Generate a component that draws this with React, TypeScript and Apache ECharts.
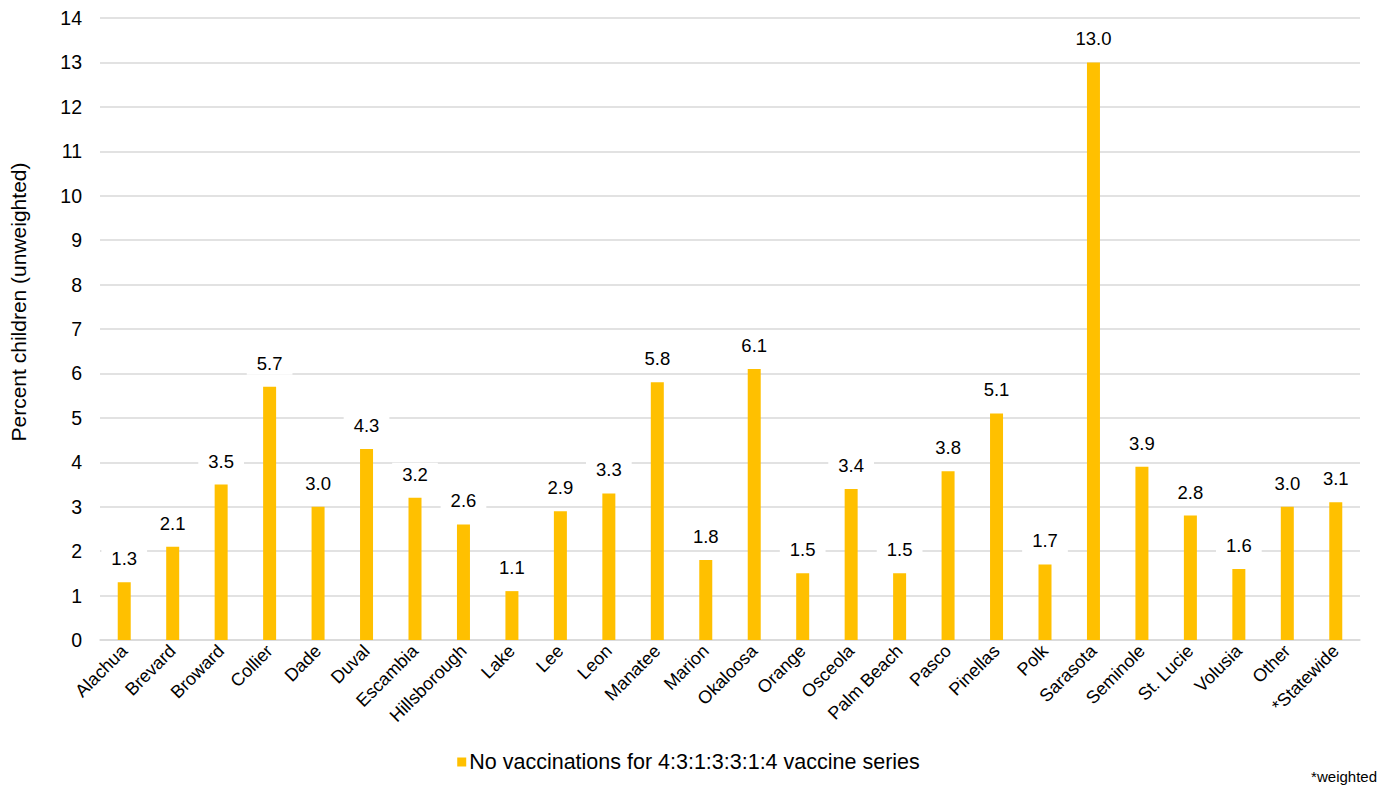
import React, { useEffect, useRef } from "react";
import * as echarts from "echarts";

const counties = [
  "Alachua", "Brevard", "Broward", "Collier", "Dade", "Duval", "Escambia",
  "Hillsborough", "Lake", "Lee", "Leon", "Manatee", "Marion", "Okaloosa",
  "Orange", "Osceola", "Palm Beach", "Pasco", "Pinellas", "Polk", "Sarasota",
  "Seminole", "St. Lucie", "Volusia", "Other", "*Statewide",
];
const noVaccinations = [
  1.3, 2.1, 3.5, 5.7, 3.0, 4.3, 3.2, 2.6, 1.1, 2.9, 3.3, 5.8, 1.8, 6.1,
  1.5, 3.4, 1.5, 3.8, 5.1, 1.7, 13.0, 3.9, 2.8, 1.6, 3.0, 3.1,
];
const seriesName = "No vaccinations for 4:3:1:3:3:1:4 vaccine series";
const yAxisTitle = "Percent children (unweighted)";
const footnote = "*weighted";

const FONT = "Liberation Sans, Arial, sans-serif";

export default function App() {
  const ref = useRef<HTMLDivElement>(null);
  useEffect(() => {
    if (!ref.current) return;
    const chart = echarts.init(ref.current, null, { renderer: "svg" });
    chart.setOption({
      animation: false,
      textStyle: { fontFamily: FONT },
      grid: { left: 100, right: 17, top: 18, bottom: 147, containLabel: false },
      legend: {
        top: 746,
        left: "center",
        itemWidth: 9,
        itemHeight: 9,
        itemGap: 4,
        textStyle: { fontSize: 21.5, color: "#000", fontFamily: FONT, padding: [0, 0, 0, -2] },
        data: [{ name: seriesName, icon: "rect" }],
      },
      graphic: [
        {
          type: "text",
          right: 0,
          bottom: 3,
          style: { text: footnote, fontSize: 15, fill: "#000", fontFamily: FONT },
        },
        {
          type: "text",
          x: 18,
          y: 302,
          rotation: Math.PI / 2,
          style: {
            text: yAxisTitle,
            fontSize: 21,
            fill: "#000",
            fontFamily: FONT,
            align: "center",
            verticalAlign: "middle",
          },
        },
      ],
      xAxis: {
        type: "category",
        data: counties,
        axisLine: { lineStyle: { color: "#d9d9d9", width: 1.5 } },
        axisTick: { alignWithLabel: true, length: 5, lineStyle: { color: "#d9d9d9" } },
        axisLabel: {
          rotate: 45,
          interval: 0,
          fontSize: 18,
          color: "#000",
          margin: 8,
          fontFamily: FONT,
        },
      },
      yAxis: {
        type: "value",
        min: 0,
        max: 14,
        interval: 1,
        axisLine: { show: false },
        axisTick: { show: false },
        axisLabel: { fontSize: 19.5, color: "#000", margin: 18, fontFamily: FONT },
        splitLine: { lineStyle: { color: "#d9d9d9", width: 1.5 } },
      },
      series: [
        {
          name: seriesName,
          type: "bar",
          data: noVaccinations,
          barWidth: 13,
          itemStyle: { color: "#FFC000" },
          label: {
            show: true,
            position: "top",
            distance: 12,
            formatter: (p: any) => Number(p.value).toFixed(1),
            fontSize: 18.5,
            color: "#000",
            backgroundColor: "#fff",
            padding: [2, 10],
            fontFamily: FONT,
          },
        },
      ],
    });
    return () => chart.dispose();
  }, []);
  return <div ref={ref} style={{ width: 1377, height: 787, position: "absolute", left: 0, top: 0 }} />;
}
